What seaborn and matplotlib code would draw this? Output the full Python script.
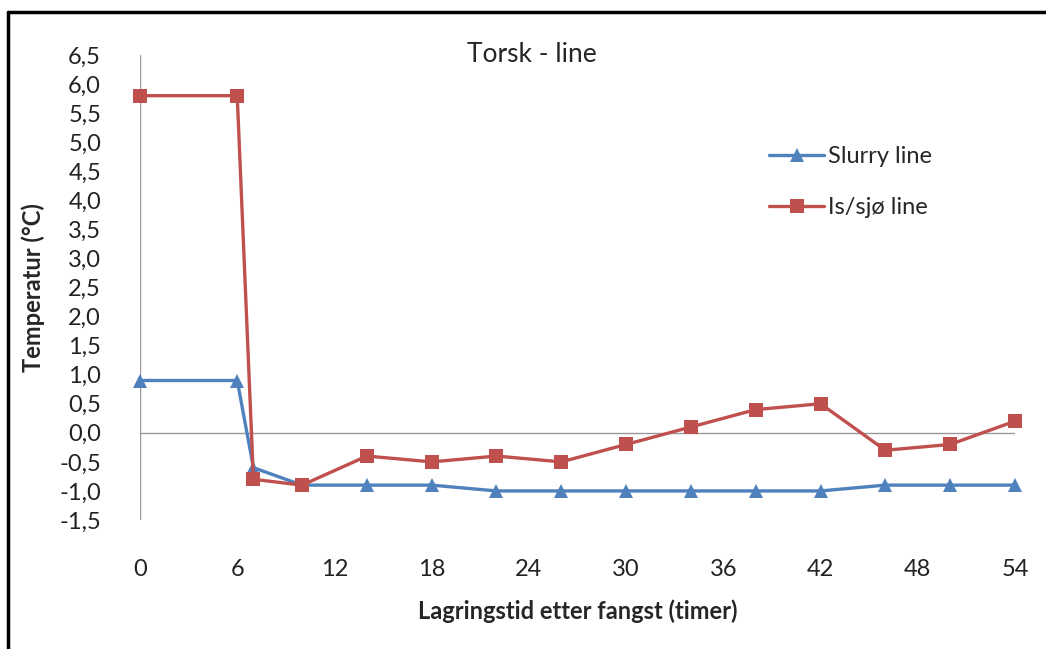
import numpy as np
import pandas as pd
import matplotlib
matplotlib.use("Agg")
import matplotlib.pyplot as plt
import seaborn as sns
from matplotlib.lines import Line2D

# Data
timer = [0, 6, 7, 10, 14, 18, 22, 26, 30, 34, 38, 42, 46, 50, 54]
slurry = [0.9, 0.9, -0.6, -0.9, -0.9, -0.9, -1.0, -1.0, -1.0, -1.0, -1.0, -1.0, -0.9, -0.9, -0.9]
is_sjo = [5.8, 5.8, -0.8, -0.9, -0.4, -0.5, -0.4, -0.5, -0.2, 0.1, 0.4, 0.5, -0.3, -0.2, 0.2]
serier = ["Slurry line", "Is/sjø line"]
x_ticks = [0, 6, 12, 18, 24, 30, 36, 42, 48, 54]
y_ticks = np.arange(-1.5, 6.51, 0.5)

sns.set_style("white")
plt.rcParams['font.family'] = ['Lato', 'DejaVu Sans']

df = pd.DataFrame({
    "timer": timer * 2,
    "temp": slurry + is_sjo,
    "serie": [serier[0]] * len(timer) + [serier[1]] * len(timer),
})

farger = {serier[0]: "#4F81BD", serier[1]: "#C0504D"}
markorer = {serier[0]: "^", serier[1]: "s"}

fig = plt.figure(figsize=(10.46, 6.49), dpi=100)
ax = fig.add_axes([140 / 1046, 1 - 520 / 649, 875 / 1046, 465 / 649])

sns.lineplot(data=df, x="timer", y="temp", hue="serie", style="serie",
             palette=farger, markers=markorer, dashes=False, linewidth=2.4,
             markersize=10, markeredgewidth=0, legend=False, ax=ax, clip_on=False)

ax.set_xlim(0, 54)
ax.set_ylim(-1.5, 6.5)
ax.set_xticks(x_ticks)
ax.set_yticks(y_ticks)
ax.set_yticklabels([f"{v:.1f}".replace(".", ",") for v in y_ticks])
ax.tick_params(axis="both", length=0, labelsize=17, colors="#222222")
ax.tick_params(axis="x", pad=28)
ax.tick_params(axis="y", pad=28)
for s in ax.spines.values():
    s.set_visible(False)
ax.axhline(0, color="#999999", lw=1, zorder=0)
ax.axvline(0, color="#999999", lw=1, zorder=0)

ax.set_xlabel("Lagringstid etter fangst (timer)", fontsize=17, fontweight="bold", labelpad=14)
ax.set_ylabel("Temperatur (°C)", fontsize=17, fontweight="bold", labelpad=10)
fig.text(532 / 1046, 1 - 55 / 649, "Torsk - line", fontsize=19, ha="center", va="center")

handles = [Line2D([], [], color=farger[s], marker=markorer[s], lw=2.4,
                  markersize=10, markeredgewidth=0) for s in serier]
ax.legend(handles, serier, loc="upper left", bbox_to_anchor=(620 / 875, 1 - 82 / 465),
          frameon=False, fontsize=17, handlelength=2.3, labelspacing=1.25,
          handletextpad=0.2, borderaxespad=0)

# frame around chart
fig.add_artist(Line2D([8 / 1046, 8 / 1046], [0, 1 - 12 / 649], color="black", lw=2.5, transform=fig.transFigure))
fig.add_artist(Line2D([8 / 1046, 1], [1 - 12 / 649, 1 - 12 / 649], color="black", lw=2.5, transform=fig.transFigure))

fig.savefig("out.png", dpi=100)
